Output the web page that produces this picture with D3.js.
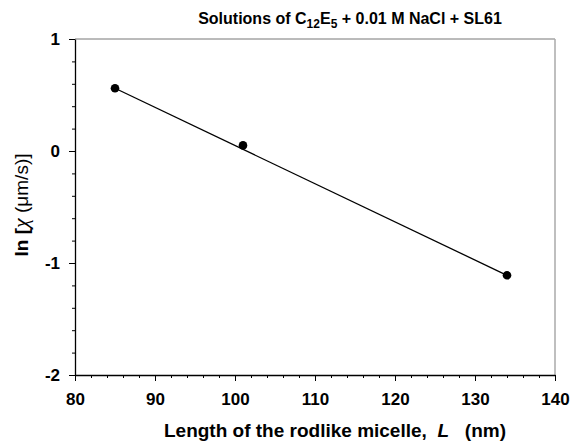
<!DOCTYPE html>
<html>
<head>
<meta charset="utf-8">
<script src="https://cdn.jsdelivr.net/npm/d3@7"></script>
<style>
  body { margin: 0; background: #fff; }
  text { font-family: "Liberation Sans", Arial, sans-serif; fill: #000; }
  .chart_title { font-size: 16px; font-weight: bold; }
  .axis_label { font-size: 19px; font-weight: bold; }
</style>
</head>
<body>
<div id="chart"></div>
<script>
// measured points
const lengths = [85, 101, 134];
const lnChi = [0.56, 0.05, -1.11];
// straight fit line drawn through the data
const fitX = [85, 134];
const fitY = [0.56, -1.11];
const xTicks = [80, 90, 100, 110, 120, 130, 140];
const yTicks = [-2, -1, 0, 1];

const margin = {top: 39, right: 17, bottom: 68, left: 75};
const width = 572 - margin.left - margin.right,
    height = 443 - margin.top - margin.bottom;

const root = d3.select("#chart")
    .append("svg")
    .attr("width", 572)
    .attr("height", 443);

const svg = root.append("g")
    .attr("transform", "translate(" + margin.left + "," + margin.top + ")");

const x = d3.scaleLinear().domain([80, 140]).range([0, width]);
const y = d3.scaleLinear().domain([-2, 1]).range([height, 0]);

// top and right frame lines (grey)
svg.append("line")
    .attr("x1", 0).attr("x2", width).attr("y1", 0).attr("y2", 0)
    .attr("stroke", "#777").attr("stroke-width", 1);
svg.append("line")
    .attr("x1", width).attr("x2", width).attr("y1", 0).attr("y2", height)
    .attr("stroke", "#aaa").attr("stroke-width", 1.5);

// minor ticks
svg.append("g")
    .attr("transform", "translate(0," + height + ")")
    .call(d3.axisBottom(x).ticks(30).tickSizeInner(3).tickSizeOuter(0).tickFormat(""))
    .call(g => g.select(".domain").remove());
svg.append("g")
    .call(d3.axisLeft(y).ticks(15).tickSizeInner(3).tickSizeOuter(0).tickFormat(""))
    .call(g => g.select(".domain").remove());

// major ticks + labels
svg.append("g")
    .attr("class", "xaxis")
    .attr("transform", "translate(0," + height + ")")
    .call(d3.axisBottom(x).tickValues(xTicks).tickSizeInner(6).tickSizeOuter(0).tickPadding(12));

svg.append("g")
    .attr("class", "yaxis")
    .call(d3.axisLeft(y).tickValues(yTicks).tickSizeInner(6).tickSizeOuter(0).tickPadding(9)
        .tickFormat(function (d) { return String(d); }));

svg.selectAll(".domain").attr("stroke", "#000").attr("stroke-width", 1.3);
svg.selectAll(".tick line").attr("stroke", "#000");
svg.selectAll(".tick text")
    .attr("fill", "#000")
    .style("font-size", "17px")
    .style("font-weight", "bold")
    .style("font-family", "'Liberation Sans', Arial, sans-serif");

// fit line
const pts = fitX.map((d, i) => [d, fitY[i]]);
svg.append("path")
    .datum(pts)
    .attr("fill", "none")
    .attr("stroke", "#000")
    .attr("stroke-width", 1.3)
    .attr("d", d3.line()
        .x(function (d) { return x(d[0]); })
        .y(function (d) { return y(d[1]); })
    );

// data points
svg.selectAll(".dot")
    .data(lengths)
    .enter()
    .append("circle")
    .attr("class", "dot")
    .attr("cx", function (d) { return x(d); })
    .attr("cy", function (d, i) { return y(lnChi[i]); })
    .attr("r", 4.3)
    .attr("fill", "#000");

// title
const title = root.append("text")
    .attr("class", "chart_title")
    .attr("x", 350)
    .attr("y", 24)
    .attr("text-anchor", "middle");
title.append("tspan").text("Solutions of C");
title.append("tspan").attr("dy", 4).style("font-size", "12px").text("12");
title.append("tspan").attr("dy", -4).text("E");
title.append("tspan").attr("dy", 4).style("font-size", "12px").text("5");
title.append("tspan").attr("dy", -4).text(" + 0.01 M NaCl + SL61");

// x axis title
const xl = root.append("text")
    .attr("class", "axis_label")
    .attr("x", 335)
    .attr("y", 437)
    .attr("text-anchor", "middle")
    .attr("xml:space", "preserve");
xl.append("tspan").text("Length of the rodlike micelle,  ");
xl.append("tspan").style("font-style", "italic").text("L");
xl.append("tspan").text("   (nm)");

// y axis title
const yl = root.append("text")
    .attr("class", "axis_label")
    .attr("transform", "translate(28," + (margin.top + height / 2 - 2) + ") rotate(-90)")
    .attr("text-anchor", "middle");
yl.append("tspan").text("ln [");
yl.append("tspan").style("font-style", "italic").style("font-weight", "normal")
    .style("font-family", "'Liberation Serif', serif").style("font-size", "22px").text("\u03C7");
yl.append("tspan").style("font-weight", "normal").text(" (\u03BCm/s)]");
</script>
</body>
</html>
